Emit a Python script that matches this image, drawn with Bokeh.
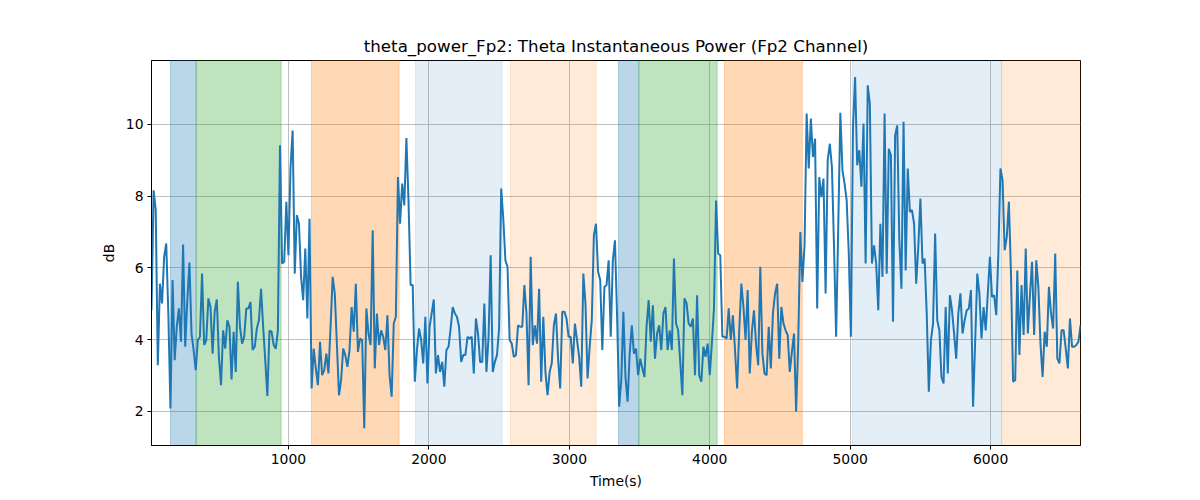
import numpy as np
from bokeh.plotting import figure
from bokeh.models import Range1d, BoxAnnotation, FixedTicker
from bokeh.embed import file_html
from bokeh.resources import INLINE

# ---- data ----
t_start = 25
t_step = 15

w1 = [4.82, 8.16, 7.61, 3.29, 5.56, 5.01, 6.31, 6.68, 4.7, 2.08,
      5.66, 3.43, 4.36, 4.87, 3.94, 6.65, 3.80, 5.10, 6.15, 4.17,
      3.71, 3.15, 3.99, 4.08, 5.84, 3.85, 3.99, 5.15, 4.91, 3.61,
      4.78, 5.12, 3.52, 2.73, 4.26, 3.75, 4.54, 4.36, 2.89, 4.22,
      3.10, 5.61, 4.36, 3.89, 4.08, 4.87, 4.87, 5.05, 3.71, 3.80,
      4.31, 4.54, 5.42, 4.36, 3.43, 2.43, 4.25, 4.22, 3.85, 3.75,
      4.26, 9.42, 6.12, 6.17, 7.84, 6.35, 8.81, 9.83, 5.84, 7.47,
      7.23, 5.75, 5.10, 6.54, 4.59]
w2 = [7.37, 2.64, 3.75, 3.20, 2.73, 3.94, 3.01, 3.15, 3.61, 3.06,
      4.36, 5.75, 5.29, 3.89, 2.45, 2.87, 3.75, 3.57, 3.24, 3.71,
      4.91, 4.22, 5.56, 3.66, 4.03, 3.99, 1.53, 4.87, 4.17, 3.85,
      7.05, 3.20, 4.73, 3.85, 4.26, 4.08, 3.71, 4.68, 3.01, 2.41,
      4.45, 4.64, 8.53, 7.23, 8.35, 7.74, 9.62, 7.88, 5.52, 5.52,
      2.83, 3.71, 4.31, 3.99, 3.34, 4.64, 2.78, 4.36, 4.73, 5.12,
      3.06, 3.57, 3.10, 3.38, 2.69, 3.71, 3.80, 4.31, 4.91, 4.73,
      4.64, 4.36]
w3 = [3.38, 3.57, 3.57, 4.08, 4.03, 4.08, 3.06, 4.59, 4.17, 3.38,
      3.38, 5.01, 3.10, 4.08, 6.35, 3.10, 3.38, 3.57, 4.31, 8.21,
      7.37, 6.21, 6.03, 3.99, 3.89, 3.52, 3.57, 4.40, 4.36, 4.36,
      5.52, 4.73, 2.73, 6.31, 3.85, 4.40, 3.89, 5.42, 2.83, 4.64,
      3.10, 2.45, 3.10, 3.34, 4.40, 4.73, 3.47, 2.64, 4.78, 4.78,
      4.59, 4.08, 4.08, 3.34, 4.45, 3.99, 3.52, 2.69, 5.84, 5.01,
      2.92, 3.80, 4.54, 6.91, 7.23, 5.89, 5.66, 3.71, 5.47, 5.52,
      6.21]
w4 = [4.08, 6.21, 6.77, 4.7, 2.13, 2.87, 4.78, 2.96, 2.27, 3.61,
      4.40, 3.61, 3.75, 3.01, 3.47, 3.20, 2.96, 4.36, 5.10, 3.94,
      4.96, 3.47, 4.17, 4.40, 3.71, 4.73, 4.91, 3.71, 4.26, 3.71,
      6.26, 4.45, 4.26, 3.38, 2.45, 5.15, 5.01, 4.45, 4.36, 4.59,
      3.01, 5.24, 3.01, 2.83, 3.80, 3.52, 3.89, 3.01, 3.89, 4.87,
      7.88, 6.40, 6.35, 4.08, 4.08, 4.03, 4.87, 3.99, 4.68, 3.71,
      2.64, 4.26, 5.56, 4.91, 3.99, 5.38, 3.06, 4.22, 4.82, 3.85,
      3.29]
w5 = [6.03, 3.61, 3.06, 3.01, 4.36, 3.20, 4.73, 5.29, 5.56, 3.47,
      4.91, 4.45, 4.26, 4.13, 3.10, 3.66, 4.17, 1.99, 3.89, 7.00,
      5.61, 6.63, 10.30, 8.77, 10.16, 9.09, 9.60, 4.87, 8.53, 7.97,
      8.49, 5.29, 9.00, 9.46, 8.81, 6.58, 4.08, 7.14, 10.32, 8.72,
      8.35, 7.88, 6.40, 4.08, 9.92, 11.32, 8.86, 9.28, 8.26, 10.02,
      6.12, 11.09, 10.58, 6.12, 6.63, 6.12, 4.82, 7.23, 5.75, 10.30,
      5.84, 9.32, 9.14, 4.50, 9.69, 9.97, 6.77, 5.42, 10.07, 5.93,
      8.77]
w6 = [7.56, 7.61, 7.23, 5.56, 6.58, 7.93, 6.12, 6.26, 4.73, 2.55,
      3.99, 4.45, 6.96, 4.54, 4.26, 2.96, 2.78, 4.91, 3.06, 5.24,
      4.82, 4.17, 3.47, 4.73, 5.29, 4.17, 4.54, 4.82, 4.87, 5.38,
      2.13, 3.94, 5.84, 5.29, 4.03, 4.91, 4.26, 5.29, 6.31, 5.19,
      5.24, 4.68, 6.40, 8.77, 8.44, 6.49, 6.86, 7.84, 5.84, 2.83,
      2.87, 5.93, 3.57, 5.52, 4.13, 6.54, 4.17, 5.24, 6.17, 4.13,
      6.21, 5.47, 3.89, 2.96, 4.22, 3.80, 5.47, 4.73, 4.31, 6.40,
      3.47, 3.34, 4.26, 4.26, 3.75, 3.20, 4.59, 3.80, 3.80, 3.85,
      3.94, 4.40]

power_db = w1 + w2 + w3 + w4 + w5 + w6
time_s = [t_start + t_step * i for i in range(len(power_db))]

# shaded intervals: (start, end, colour, alpha)
span_starts = [160, 343, 1164, 1905, 2581, 3350, 3495, 4105, 5015, 6078]
span_ends = [343, 948, 1788, 2522, 3191, 3495, 4053, 4659, 6078, 6640]
span_colors = ["#1f77b4", "#2ca02c", "#ff7f0e", "#1f77b4", "#ff7f0e",
               "#1f77b4", "#2ca02c", "#ff7f0e", "#1f77b4", "#ff7f0e"]
span_alphas = [0.3, 0.3, 0.3, 0.12, 0.16, 0.3, 0.3, 0.3, 0.12, 0.16]

x_ticks = [1000, 2000, 3000, 4000, 5000, 6000]
y_ticks = [2, 4, 6, 8, 10]

FONT = "DejaVu Sans"

p = figure(width=1200, height=500, output_backend="svg", toolbar_location=None,
           x_range=Range1d(time_s[0], time_s[-1]), y_range=Range1d(1.05, 11.78),
           title="theta_power_Fp2: Theta Instantaneous Power (Fp2 Channel)",
           min_border_left=151, min_border_right=120, min_border_top=60,
           min_border_bottom=55)

for s, e, c, a in zip(span_starts, span_ends, span_colors, span_alphas):
    p.add_layout(BoxAnnotation(left=s, right=e, fill_color=c, fill_alpha=a,
                               line_color=c, line_alpha=a, line_width=1,
                               level="underlay"))

p.line(time_s, power_db, line_color="#1f77b4", line_width=2.0)

p.title.align = "center"
p.title.text_font = FONT
p.title.text_font_size = "16.7px"
p.title.text_font_style = "normal"
p.title.text_color = "black"

p.xaxis.axis_label = "Time(s)"
p.yaxis.axis_label = "dB"
p.xaxis.ticker = FixedTicker(ticks=x_ticks)
p.yaxis.ticker = FixedTicker(ticks=y_ticks)
for ax in (p.xaxis, p.yaxis):
    ax.axis_label_text_font = FONT
    ax.axis_label_text_font_size = "13.9px"
    ax.axis_label_text_font_style = "normal"
    ax.axis_label_text_color = "black"
    ax.major_label_text_font = FONT
    ax.major_label_text_font_size = "13.9px"
    ax.major_label_text_color = "black"
    ax.axis_line_color = "black"
    ax.axis_line_width = 1
    ax.major_tick_line_color = "black"
    ax.major_tick_in = 0
    ax.major_tick_out = 4
    ax.minor_tick_line_color = None
    ax.major_label_standoff = 4
    ax.axis_label_standoff = 6

p.xgrid.ticker = FixedTicker(ticks=x_ticks)
p.ygrid.ticker = FixedTicker(ticks=y_ticks)
p.grid.grid_line_color = "#b0b0b0"
p.grid.grid_line_width = 0.8
p.grid.level = "underlay"
p.outline_line_color = "black"
p.outline_line_width = 1
p.outline_line_alpha = 1
p.background_fill_color = "white"
p.border_fill_color = "white"

open("out.html", "w").write(file_html(p, INLINE))
